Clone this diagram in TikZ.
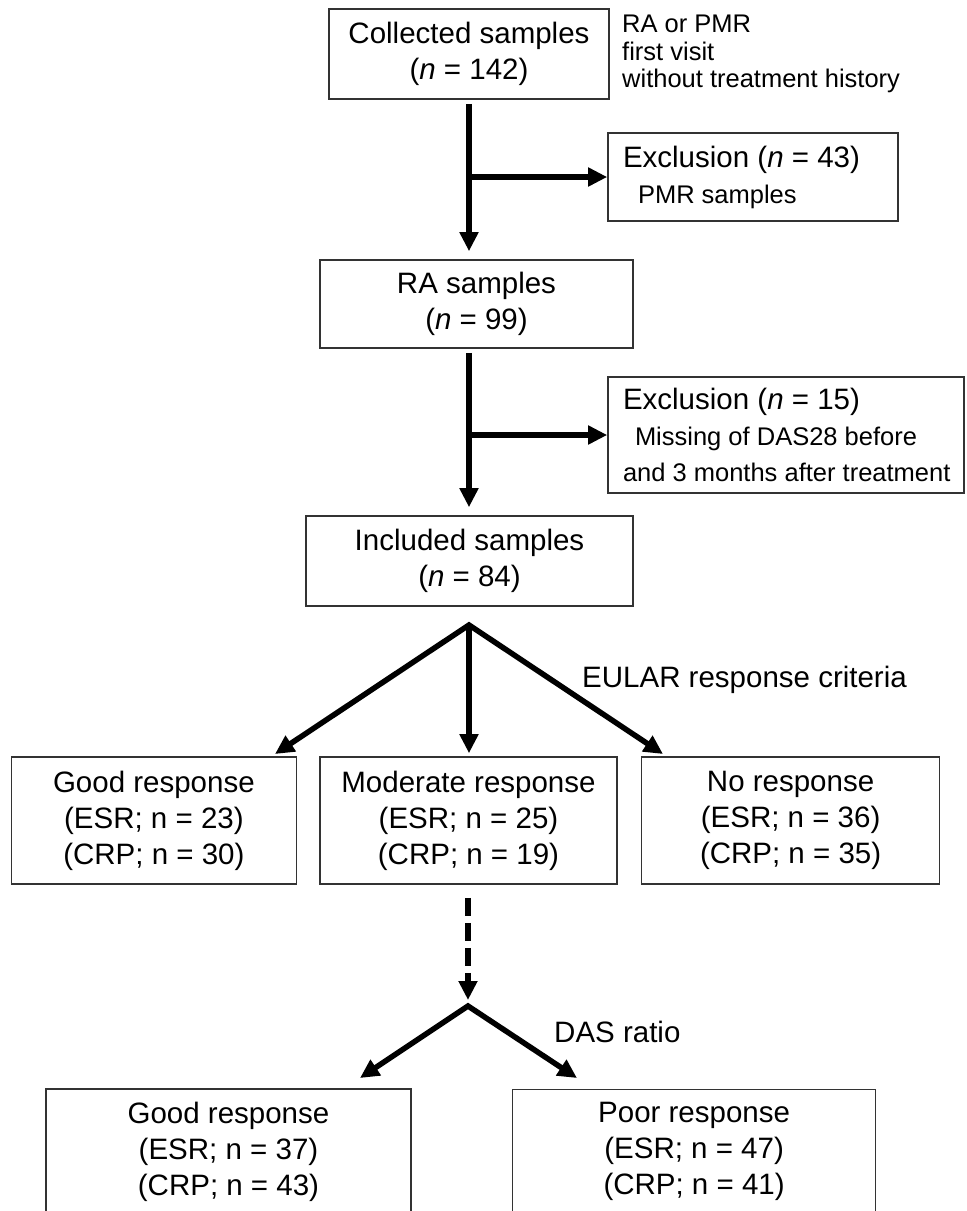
\documentclass[tikz,border=0pt]{standalone}
\usepackage{fontspec}
\setmainfont{Liberation Sans}
\usetikzlibrary{arrows.meta,positioning}
\newcommand\boxfont{\fontsize{29.5}{36}\selectfont}
\newcommand\notefont{\fontsize{25.5}{27.5}\selectfont}

\begin{document}
\begin{tikzpicture}[
  x=1pt,
  y=-1pt,
  mybox/.style={
    draw=black!80,
    line width=1.6pt,
    inner sep=0pt,
    align=center,
    font=\boxfont,
    minimum width=#1
    },
  myexcl/.style={
    draw=black!80,
    line width=1.6pt,
    inner ysep=0pt,
    inner xsep=15pt,
    align=flush left,
    font=\boxfont,
    text width=#1
    },
  myarrow/.style={
    line width=5.5pt,
    -{Triangle[length=19pt,width=18pt]}
    },
  myfork/.style={
    line width=5.5pt,
    line join=miter,
    {Triangle[length=19pt,width=18pt]}-{Triangle[length=19pt,width=18pt]}
    },
  mylabel/.style={
    inner sep=0pt,
    anchor=west,
    font=\boxfont
    }
]
\clip (0,0) rectangle (967,1211);

\node[mybox=280pt, minimum height=90pt] (collected) at (469,54)
  {Collected samples\\(\textit{n} = 142)};

\node[inner sep=0pt, anchor=north west, align=left, font=\notefont] (criteria) at (622,15)
  {RA or PMR\\first visit\\without treatment history};

\node[myexcl=260pt, minimum height=88pt] (exclusion1) at (753,177)
  {Exclusion (\textit{n} = 43)\\
   {\notefont\hspace*{15pt}PMR samples}};

\node[mybox=313pt, minimum height=88pt] (rasamples) at (476.5,304)
  {RA samples\\(\textit{n} = 99)};

\node[myexcl=326pt, minimum height=116pt] (exclusion2) at (786,435)
  {Exclusion (\textit{n} = 15)\\
   {\notefont\mbox{\hspace*{12pt}Missing of DAS28 before}}\\
   {\notefont\mbox{and 3 months after treatment}}};

\node[mybox=327pt, minimum height=90pt] (included) at (469.5,561)
  {Included samples\\(\textit{n} = 84)};

\node[mybox=297pt, minimum height=127pt] (moderate) at (468.5,820.5)
  {Moderate response\\(ESR; n = 25)\\(CRP; n = 19)};

\node[mybox=285pt, minimum height=127pt] [left=22pt of moderate] (good)
  {Good response\\(ESR; n = 23)\\(CRP; n = 30)};

\node[mybox=298pt, minimum height=127pt] [right=23pt of moderate] (noresp)
  {No response\\(ESR; n = 36)\\(CRP; n = 35)};

\node[mybox=365pt, anchor=north, inner ysep=13pt, text depth=150pt] (goodratio) at (228.5,1088)
  {Good response\\(ESR; n = 37)\\(CRP; n = 43)};

\node[mybox=363pt, inner ysep=13pt, text depth=150pt] [right=100pt of goodratio] (poorratio)
  {Poor response\\(ESR; n = 47)\\(CRP; n = 41)};

\node[mylabel] (eular) at (582,680) {EULAR response criteria};
\node[mylabel] (dasratio) at (554,1032) {DAS ratio};

\coordinate (forkA) at (469,625);
\coordinate (forkB) at (468,1006);
\coordinate (tipgood) at (275,754);
\coordinate (tipnoresp) at (663,754);
\coordinate (tipgoodratio) at (360,1078);
\coordinate (tippoorratio) at (577,1078);

\draw[myarrow, shorten <=4pt, shorten >=8pt] (collected.south) -- (collected.south |- rasamples.north);
\draw[myarrow] (collected.south |- exclusion1.west) -- (exclusion1.west);
\draw[myarrow, shorten <=4pt, shorten >=8pt] (collected.south |- rasamples.south) -- (collected.south |- included.north);
\draw[myarrow] (collected.south |- exclusion2.west) -- (exclusion2.west);

\draw[myfork] (tipgood) -- (forkA) -- (tipnoresp);
\draw[myarrow, shorten >=3pt] (forkA) -- (forkA |- moderate.north);

\draw[myarrow, dash pattern=on 18pt off 7pt, shorten <=13pt, shorten >=6pt] (forkB |- moderate.south) -- (forkB);
\draw[myfork] (tipgoodratio) -- (forkB) -- (tippoorratio);
\end{tikzpicture}
\end{document}
